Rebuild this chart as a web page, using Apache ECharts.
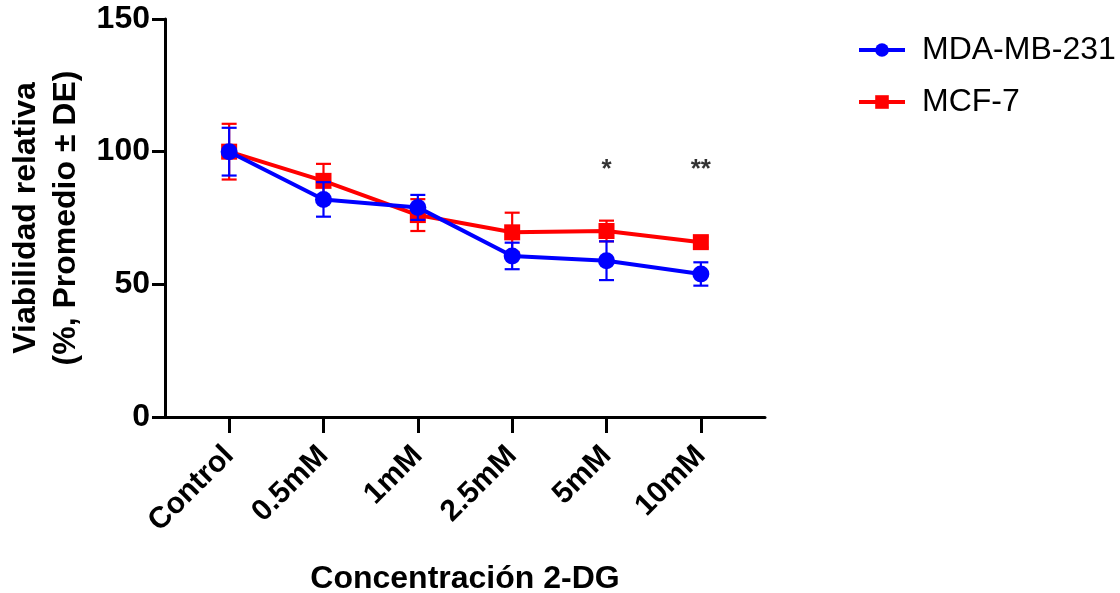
<!DOCTYPE html>
<html>
<head>
<meta charset="utf-8">
<script src="https://cdn.jsdelivr.net/npm/echarts@6/dist/echarts.min.js"></script>
<style>
  html, body { margin: 0; padding: 0; background: #fff; }
  #chart { width: 1120px; height: 593px; }
</style>
</head>
<body>
<div id="chart"></div>
<script>
// datos
const categories = ["Control", "0.5mM", "1mM", "2.5mM", "5mM", "10mM"];
const mdaMean = [100, 82.0, 79.0, 60.7, 58.9, 53.9];
const mdaSD = [9.0, 6.5, 4.7, 5.0, 7.3, 4.4];
const mcfMean = [100, 89.0, 76.1, 69.6, 70.1, 65.9];
const mcfSD = [10.5, 6.4, 6.0, 7.4, 3.9, 2.0];
const starLabels = ["", "", "", "", "*", "**"];
const starLevel = 93;
const yTicks = [0, 50, 100, 150];

const FONT = "Liberation Sans";
const idx = categories.map((c, i) => i);

const chart = echarts.init(document.getElementById("chart"));

// barras de error (media ± DE)
function errorSeries(mean, sd, color, z) {
  return {
    type: "custom",
    z: z,
    silent: true,
    data: mean.map((m, i) => [i, m - sd[i], m + sd[i]]),
    renderItem: function (params, api) {
      const lo = api.coord([api.value(0), api.value(1)]);
      const hi = api.coord([api.value(0), api.value(2)]);
      const w = 7.5;
      const style = { stroke: color, lineWidth: 2.2 };
      return {
        type: "group",
        children: [
          { type: "line", shape: { x1: hi[0], y1: hi[1], x2: lo[0], y2: lo[1] }, style: style },
          { type: "line", shape: { x1: hi[0] - w, y1: hi[1], x2: hi[0] + w, y2: hi[1] }, style: style },
          { type: "line", shape: { x1: lo[0] - w, y1: lo[1], x2: lo[0] + w, y2: lo[1] }, style: style },
        ],
      };
    },
  };
}

const option = {
  animation: false,
  textStyle: { fontFamily: FONT },
  grid: { left: 165, right: 355, top: 19, bottom: 176, outerBoundsMode: "none", containLabel: false },
  legend: {
    data: ["MDA-MB-231", "MCF-7"],
    orient: "vertical",
    left: 852,
    top: 29,
    itemWidth: 46,
    itemHeight: 17,
    itemGap: 20,
    lineStyle: { width: 4 },
    textStyle: { fontFamily: FONT, fontSize: 32, color: "#000", padding: [0, 0, 0, 12] },
  },
  xAxis: {
    type: "value",
    min: -0.68,
    max: 5.68,
    name: "Concentración 2-DG",
    nameLocation: "middle",
    nameGap: 146,
    nameTextStyle: { fontFamily: FONT, fontSize: 32, fontWeight: "bold", color: "#000" },
    splitLine: { show: false },
    axisLine: { show: true, lineStyle: { color: "#000", width: 3 } },
    axisTick: { show: true, length: 16, customValues: idx, lineStyle: { color: "#000", width: 3 } },
    axisLabel: {
      customValues: idx,
      rotate: 45,
      margin: 34,
      fontFamily: FONT,
      fontSize: 30,
      fontWeight: "bold",
      color: "#000",
      formatter: (v) => categories[Math.round(v)],
    },
  },
  yAxis: {
    type: "value",
    min: yTicks[0],
    max: yTicks[yTicks.length - 1],
    interval: 50,
    name: "Viabilidad relativa\n(%, Promedio ± DE)",
    nameLocation: "middle",
    nameGap: 74,
    nameRotate: 90,
    nameTextStyle: { fontFamily: FONT, fontSize: 32, fontWeight: "bold", color: "#000", lineHeight: 40 },
    splitLine: { show: false },
    axisLine: { show: true, onZero: false, lineStyle: { color: "#000", width: 3 } },
    axisTick: { show: true, length: 13, lineStyle: { color: "#000", width: 3 } },
    axisLabel: { margin: 15, fontFamily: FONT, fontSize: 32, fontWeight: "bold", color: "#000" },
  },
  series: [
    errorSeries(mcfMean, mcfSD, "#ff0000", 1),
    {
      name: "MCF-7",
      type: "line",
      z: 2,
      data: mcfMean.map((v, i) => [i, v]),
      symbol: "rect",
      symbolSize: 16,
      itemStyle: { color: "#ff0000" },
      lineStyle: { color: "#ff0000", width: 4 },
    },
    errorSeries(mdaMean, mdaSD, "#0000ff", 3),
    {
      name: "MDA-MB-231",
      type: "line",
      z: 4,
      data: mdaMean.map((v, i) => [i, v]),
      symbol: "circle",
      symbolSize: 17,
      itemStyle: { color: "#0000ff" },
      lineStyle: { color: "#0000ff", width: 4 },
    },
    {
      type: "scatter",
      z: 5,
      silent: true,
      symbolSize: 0,
      data: starLabels.map((s, i) => [i, starLevel, s]).filter((d) => d[2] !== ""),
      label: {
        show: true,
        position: "inside",
        formatter: (p) => p.data[2],
        fontFamily: FONT,
        fontSize: 26,
        fontWeight: "bold",
        color: "#000",
      },
    },
  ],
};

chart.setOption(option);
</script>
</body>
</html>
